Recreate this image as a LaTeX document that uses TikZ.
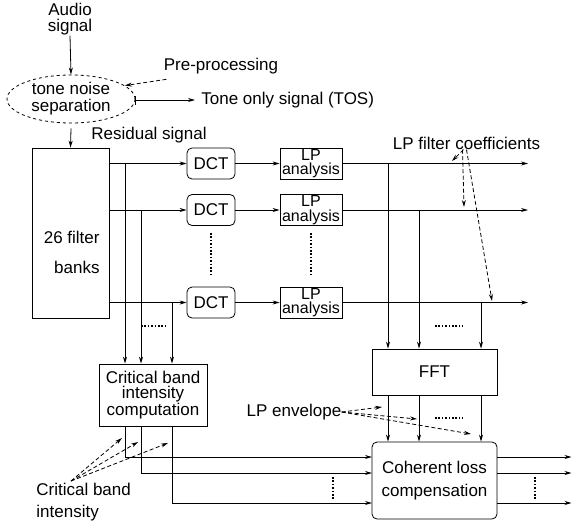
\documentclass[tikz,border=0pt]{standalone}
\usepackage{fontspec}
\setmainfont{Liberation Sans}
\usetikzlibrary{arrows.meta,shapes.geometric}
\newcommand{\fsize}{\fontsize{17}{15}\selectfont}
\tikzset{
  blk/.style={draw, inner sep=0pt, align=center},
  rblk/.style={blk, rounded corners=5pt},
  txt/.style={inner sep=0pt, align=center},
  dots/.style={line width=1.1pt, dash pattern=on 1.6pt off 1.8pt},
  hint/.style={dash pattern=on 4pt off 2.5pt, ->},
}

\begin{document}
\begin{tikzpicture}[x=1pt,y=-1pt,line width=0.8pt,font=\fsize,
  >={Stealth[length=7pt,width=4pt]}]
\useasboundingbox (0,0) rectangle (572,525);
\node[txt, font=\fontsize{17}{16.5}\selectfont] (audio) at (70,19) {Audio\\signal};
\node[draw, dashed, ellipse, minimum width=128pt, minimum height=48pt,
  inner sep=0pt, align=center, font=\fontsize{17}{17}\selectfont] (sep) at (71,99) {tone noise\\separation};
\node[txt] (pre) at (221,66) {Pre-processing};
\node[txt, anchor=west] (tos) at (201,100) {Tone only signal (TOS)};
\node[txt] (res) at (149,135) {Residual signal};
\node[blk, minimum width=77pt, minimum height=170pt] (fb) at (70.5,233) {};
\node[txt, align=right, anchor=east] (fbtxt) at (100,252) {26 filter\\[15pt]banks};
%filter rows
\node[rblk, minimum width=48pt, minimum height=31pt] (dct1) at (211,163.5) {DCT};
\node[rblk, minimum width=48pt, minimum height=31pt] (dct2) at (211,210) {DCT};
\node[rblk, minimum width=48pt, minimum height=31pt] (dct3) at (211,302.5) {DCT};
\node[blk, minimum width=62pt, minimum height=31pt, font=\fontsize{16}{14.5}\selectfont] (lp1) at (311,163.5) {LP\\analysis};
\node[blk, minimum width=62pt, minimum height=31pt, font=\fontsize{16}{14.5}\selectfont] (lp2) at (311,210) {LP\\analysis};
\node[blk, minimum width=62pt, minimum height=31pt, font=\fontsize{16}{14.5}\selectfont] (lp3) at (311,302.5) {LP\\analysis};
\node[blk, minimum width=108pt, minimum height=62pt, font=\fontsize{17}{15.5}\selectfont] (cbi) at (153,395) {Critical band\\intensity\\computation};
\node[blk, minimum width=125pt, minimum height=46pt] (fft) at (434.5,372) {FFT};
\node[rblk, minimum width=125pt, minimum height=77pt] (cl) at (434.5,480.5) {Coherent loss\\[8pt]compensation};
\node[txt] (lpc) at (466.5,143) {LP filter coefficients};
\node[txt] (lpe) at (294,412) {LP envelope};
\node[txt, align=left, anchor=west] (cbt) at (36,502) {Critical band\\[7pt]intensity};
%taps and ends
\coordinate (f1) at (125,163.5);
\coordinate (f2) at (141,210);
\coordinate (f3) at (172,302.5);
\coordinate (g1) at (388,163.5);
\coordinate (g2) at (419,210);
\coordinate (g3) at (481,302.5);
\coordinate (e1) at (528,163.5);
\coordinate (e2) at (528,210);
\coordinate (e3) at (528,302.5);
\coordinate (c1) at (372,457);
\coordinate (c2) at (372,473);
\coordinate (c3) at (372,503);
\coordinate (o1) at (571.5,457);
\coordinate (o2) at (571.5,473);
\coordinate (o3) at (571.5,503);
\coordinate (k1) at (452,161);
\coordinate (k2) at (464,207);
\coordinate (k3) at (492,301);
\coordinate (v1) at (382,407);
\coordinate (v2) at (417,419);
\coordinate (v3) at (471,434);
\coordinate (b1) at (122,438);
\coordinate (b2) at (138,442);
\coordinate (b3) at (168,443);
\coordinate (cbs) at (71,481);
%input side
\draw[->] (audio.south) -- (sep.north);
\draw[{Bar[width=9pt]}->] (sep.east |- tos.west) -- ([xshift=-6pt]tos.west);
\draw[hint] ([xshift=3pt,yshift=-5pt]pre.south west) -- (sep.14);
\draw[->] ([yshift=-5pt]sep.south) -- (fb.north);
\draw[->] (fb.east |- dct1.west) -- (dct1.west);
\draw[->] (fb.east |- dct2.west) -- (dct2.west);
\draw[->] (fb.east |- dct3.west) -- (dct3.west);
\draw[->] (dct1.east) -- (lp1.west);
\draw[->] (dct2.east) -- (lp2.west);
\draw[->] (dct3.east) -- (lp3.west);
\draw[->] (lp1.east) -- (e1);
\draw[->] (lp2.east) -- (e2);
\draw[->] (lp3.east) -- (e3);
%critical band
\draw[->] (f1) -- (f1 |- cbi.north);
\draw[->] (f2) -- (f2 |- cbi.north);
\draw[->] (f3) -- (f3 |- cbi.north);
\draw[->] (f1 |- cbi.south) |- (c1);
\draw[->] (f2 |- cbi.south) |- (c2);
\draw[->] (f3 |- cbi.south) |- (c3);
%fft
\draw[->] (g1) -- (g1 |- fft.north);
\draw[->] (g2) -- (g2 |- fft.north);
\draw[->] (g3) -- (g3 |- fft.north);
\draw[->] (g1 |- fft.south) -- (g1 |- cl.north);
\draw[->] (g2 |- fft.south) -- (g2 |- cl.north);
\draw[->] (g3 |- fft.south) -- (g3 |- cl.north);
\draw[->] (c1 -| cl.east) -- (o1);
\draw[->] (c2 -| cl.east) -- (o2);
\draw[->] (c3 -| cl.east) -- (o3);
%dotted
\draw[dots] (211,233) -- (211,277);
\draw[dots] (311,233) -- (311,277);
\draw[dots] (141,326) -- (168,326);
\draw[dots] (435,326) -- (463,326);
\draw[dots] (435,418) -- (463,418);
\draw[dots] (333,477) -- (333,500);
\draw[dots] (535,477) -- (535,500);
%labels
\draw[hint] ([xshift=-3pt]lpc.south) -- (k1);
\draw[hint] ([xshift=-4pt]lpc.south) -- (k2);
\draw[hint] (lpc.south) -- (k3);
\draw[hint] (lpe.east) -- (v1);
\draw[hint] (lpe.east) -- (v2);
\draw[hint] (lpe.east) -- (v3);
\draw[hint] (cbs) -- (b1);
\draw[hint] (cbs) -- (b2);
\draw[hint] (cbs) -- (b3);
\end{tikzpicture}
\end{document}
